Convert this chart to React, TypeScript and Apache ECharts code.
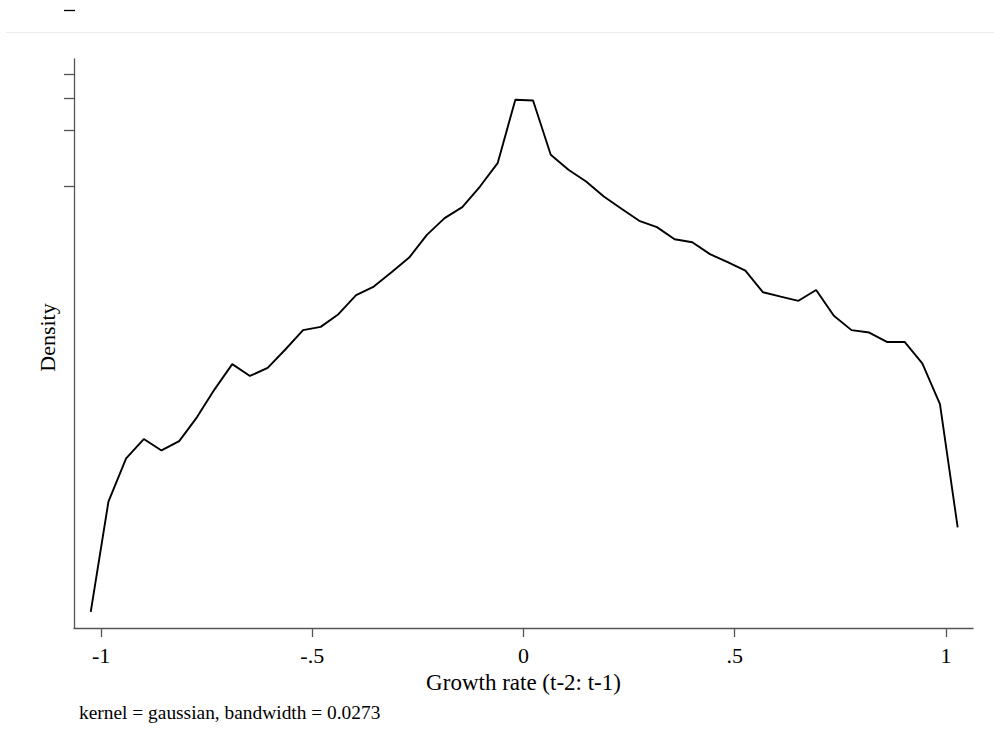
import React, { useEffect, useRef } from "react";
import * as echarts from "echarts";

// Kernel density estimate (50 evaluation points)
const gridX: number[] = [
  -1.0244, -0.9825, -0.9406, -0.8988, -0.8569, -0.815, -0.7731, -0.7312, -0.6894, -0.6475,
  -0.6056, -0.5637, -0.5218, -0.48, -0.4381, -0.3962, -0.3543, -0.3124, -0.2706, -0.2287,
  -0.1868, -0.1449, -0.103, -0.0612, -0.0193, 0.0226, 0.0645, 0.1064, 0.1482, 0.1901,
  0.232, 0.2739, 0.3158, 0.3576, 0.3995, 0.4414, 0.4833, 0.5252, 0.567, 0.6089,
  0.6508, 0.6927, 0.7346, 0.7764, 0.8183, 0.8602, 0.9021, 0.944, 0.9858, 1.0277,
];
const density: number[] = [
  0.00516, 0.0202, 0.0345, 0.0439, 0.0381, 0.0428, 0.0574, 0.0812, 0.111, 0.0958,
  0.106, 0.133, 0.169, 0.176, 0.206, 0.261, 0.29, 0.346, 0.415, 0.55,
  0.676, 0.775, 1.0, 1.336, 2.928, 2.903, 1.481, 1.23, 1.064, 0.884,
  0.759, 0.654, 0.605, 0.521, 0.502, 0.433, 0.392, 0.353, 0.27, 0.256,
  0.243, 0.278, 0.202, 0.169, 0.164, 0.146, 0.146, 0.112, 0.0677, 0.0147,
];
const xTicks: number[] = [-1, -0.5, 0, 0.5, 1];
const yTicks: number[] = [1, 2, 3, 4];
const xTitle = "Growth rate (t-2: t-1)";
const yTitle = "Density";
const note = "kernel = gaussian, bandwidth = 0.0273";

const FONT = "'Liberation Serif', 'Times New Roman', serif";

export default function App() {
  const ref = useRef<HTMLDivElement>(null);
  useEffect(() => {
    if (!ref.current) return;
    const chart = echarts.init(ref.current, null, { renderer: "svg" });
    const fmt = (v: number) => {
      const s = String(v);
      return s.replace(/^(-?)0\./, "$1.");
    };
    chart.setOption({
      animation: false,
      backgroundColor: "#ffffff",
      grid: { left: 74, right: 21, top: 59, bottom: 125, containLabel: false },
      xAxis: {
        type: "value",
        min: -1.064,
        max: 1.064,
        name: xTitle,
        nameLocation: "middle",
        nameGap: 33,
        nameTextStyle: { fontFamily: FONT, fontSize: 23, color: "#000" },
        axisLine: { show: true, onZero: false, lineStyle: { color: "#555", width: 1.3 } },
        axisTick: { show: true, inside: false, length: 9, customValues: xTicks, lineStyle: { color: "#555", width: 1.3 } },
        axisLabel: {
          show: true,
          customValues: xTicks,
          formatter: (v: number) => fmt(v),
          fontFamily: FONT,
          fontSize: 22,
          color: "#000",
          margin: 16,
        },
        splitLine: { show: false },
      },
      yAxis: {
        type: "log",
        min: 0.00423,
        max: 4.85,
        name: yTitle,
        nameLocation: "middle",
        nameRotate: 90,
        nameGap: 16,
        nameTextStyle: { fontFamily: FONT, fontSize: 22, color: "#000", padding: [0, 0, 0, 12] },
        axisLine: { show: true, onZero: false, lineStyle: { color: "#555", width: 1.3 } },
        axisTick: { show: true, inside: false, length: 10, customValues: yTicks, lineStyle: { color: "#555", width: 1.3 } },
        axisLabel: { show: false },
        splitLine: { show: false },
      },
      series: [
        {
          type: "line",
          data: gridX.map((x, i) => [x, density[i]]),
          symbol: "none",
          lineStyle: { color: "#000", width: 1.9 },
          clip: false,
        },
      ],
      graphic: [
        {
          type: "line",
          shape: { x1: 6, y1: 32.5, x2: 994, y2: 32.5 },
          style: { stroke: "#ebebeb", lineWidth: 1 },
        },
        {
          type: "line",
          shape: { x1: 64, y1: 10.5, x2: 75, y2: 10.5 },
          style: { stroke: "#000", lineWidth: 1.3 },
        },
        {
          type: "text",
          left: 79,
          top: 703,
          style: { text: note, fontFamily: FONT, fontSize: 19.4, fill: "#000" },
        },
      ],
    });
    return () => chart.dispose();
  }, []);
  return (
    <div
      ref={ref}
      style={{ position: "fixed", left: 0, top: 0, width: 994, height: 753, background: "#fff" }}
    />
  );
}
